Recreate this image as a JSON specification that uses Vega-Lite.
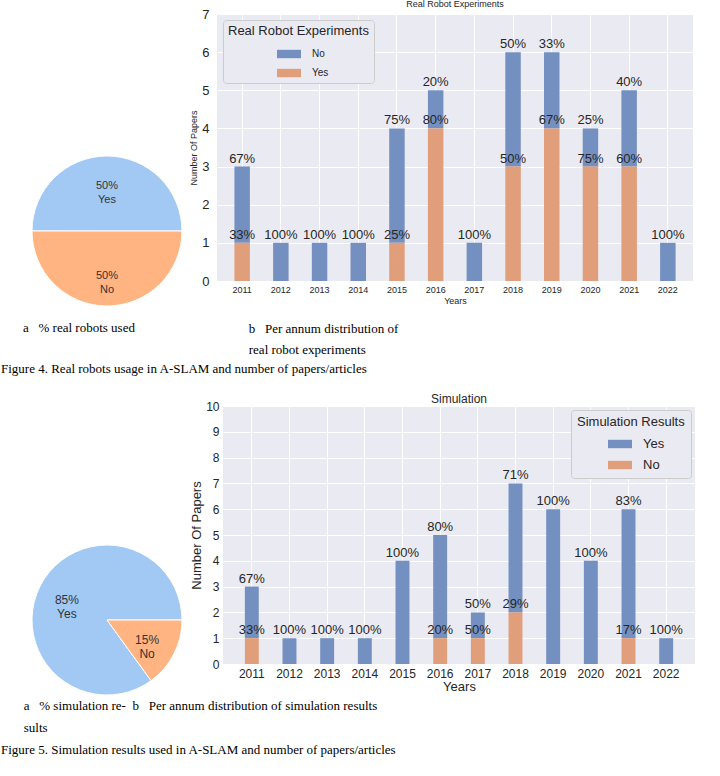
{
  "$schema": "https://vega.github.io/schema/vega-lite/v6.json",
  "padding": 0,
  "background": "white",
  "config": {
    "font": "Liberation Sans",
    "view": {"stroke": null},
    "axis": {"domain": false, "ticks": false, "gridColor": "white", "gridWidth": 1, "labelColor": "#262626", "titleColor": "#262626", "titleFontWeight": "normal"}
  },
  "resolve": {"scale": {"color": "independent", "theta": "independent"}, "legend": {"color": "independent"}},
  "spacing": 17,
  "vconcat": [
    {
      "spacing": -25,
      "resolve": {"scale": {"color": "independent", "theta": "independent"}, "legend": {"color": "independent"}},
      "title": {"text": "Figure 4. Real robots usage in A-SLAM and number of papers/articles", "orient": "bottom", "anchor": "start", "dx": 1, "offset": 6, "font": "Liberation Serif", "fontSize": 13, "fontWeight": "normal", "color": "black"},
      "hconcat": [
        {
          "spacing": 0,
          "title": {"text": "a\u00a0\u00a0\u00a0% real robots used", "orient": "bottom", "anchor": "start", "dx": 23, "offset": 14, "font": "Liberation Serif", "fontSize": 13, "fontWeight": "normal", "color": "black"},
          "vconcat": [
            {"width": 214, "height": 140, "data": {"values": []}, "mark": {"type": "point"}},
            {
              "width": 214,
              "height": 150,
              "data": {"values": [
                {"answer": "Yes", "share": 50, "pct": "50%"},
                {"answer": "No", "share": 50, "pct": "50%"}
              ]},
              "encoding": {
                "theta": {"field": "share", "type": "quantitative", "stack": true, "scale": {"range": [1.5708, 7.854]}},
                "order": {"field": "answer", "sort": "ascending"},
                "detail": {"field": "answer"}
              },
              "layer": [
                {"mark": {"type": "arc", "radius": 75, "stroke": "white", "strokeWidth": 1},
                 "encoding": {"color": {"field": "answer", "type": "nominal", "scale": {"domain": ["Yes", "No"], "range": ["#a1c9f4", "#ffb482"]}, "legend": null}}},
                {"mark": {"type": "text", "radius": 45, "fontSize": 11, "color": "#333333"},
                 "encoding": {"text": {"field": "pct"}}},
                {"mark": {"type": "text", "radius": 45, "dy": 14, "fontSize": 11, "color": "#333333"},
                 "encoding": {"text": {"field": "answer"}}}
              ]
            }
          ]
        },
        {
          "title": {"text": ["b\u00a0\u00a0\u00a0Per annum distribution of", "real robot experiments"], "orient": "bottom", "anchor": "start", "dx": 59, "offset": 18, "lineHeight": 21, "font": "Liberation Serif", "fontSize": 13, "fontWeight": "normal", "color": "black"},
          "vconcat": [
            {
              "width": 476,
              "height": 267,
              "title": {"text": "Real Robot Experiments", "fontSize": 9, "fontWeight": "normal", "offset": -1, "color": "#262626"},
              "view": {"fill": "#eaeaf2", "stroke": null},
              "data": {"values": [
                {"year": "2011", "exp": "No", "count": 2, "pct": "67%"},
                {"year": "2011", "exp": "Yes", "count": 1, "pct": "33%"},
                {"year": "2012", "exp": "No", "count": 1, "pct": "100%"},
                {"year": "2013", "exp": "No", "count": 1, "pct": "100%"},
                {"year": "2014", "exp": "No", "count": 1, "pct": "100%"},
                {"year": "2015", "exp": "No", "count": 3, "pct": "75%"},
                {"year": "2015", "exp": "Yes", "count": 1, "pct": "25%"},
                {"year": "2016", "exp": "No", "count": 1, "pct": "20%"},
                {"year": "2016", "exp": "Yes", "count": 4, "pct": "80%"},
                {"year": "2017", "exp": "No", "count": 1, "pct": "100%"},
                {"year": "2018", "exp": "No", "count": 3, "pct": "50%"},
                {"year": "2018", "exp": "Yes", "count": 3, "pct": "50%"},
                {"year": "2019", "exp": "No", "count": 2, "pct": "33%"},
                {"year": "2019", "exp": "Yes", "count": 4, "pct": "67%"},
                {"year": "2020", "exp": "No", "count": 1, "pct": "25%"},
                {"year": "2020", "exp": "Yes", "count": 3, "pct": "75%"},
                {"year": "2021", "exp": "No", "count": 2, "pct": "40%"},
                {"year": "2021", "exp": "Yes", "count": 3, "pct": "60%"},
                {"year": "2022", "exp": "No", "count": 1, "pct": "100%"}
              ]},
              "encoding": {
                "x": {"field": "year", "type": "ordinal", "scale": {"paddingInner": 0.6, "paddingOuter": 0.45},
                      "axis": {"labelAngle": 0, "labelFontSize": 9, "labelPadding": 4, "title": "Years", "titleFontSize": 9, "titlePadding": 2, "grid": true}},
                "y": {"field": "count", "type": "quantitative", "stack": "zero", "scale": {"domain": [0, 7]},
                      "axis": {"values": [0, 1, 2, 3, 4, 5, 6, 7], "labelFontSize": 13, "labelPadding": 8, "title": "Number Of Papers", "titleFontSize": 9, "titlePadding": 3}},
                "order": {"field": "exp", "sort": "descending"}
              },
              "layer": [
                {"mark": {"type": "bar"},
                 "encoding": {"color": {"field": "exp", "type": "nominal", "scale": {"domain": ["No", "Yes"], "range": ["#7490c1", "#e09e7a"]},
                   "legend": {"title": "Real Robot Experiments", "orient": "top-left", "offset": 6, "padding": 5, "fillColor": "#eaeaf2", "strokeColor": "#cccccc", "cornerRadius": 3,
                              "titleFontSize": 13, "titleFontWeight": "normal", "titleColor": "#262626", "titlePadding": 4,
                              "labelFontSize": 10, "labelColor": "#262626", "labelOffset": 11,
                              "symbolType": "M-1,-0.35H1V0.35H-1Z", "symbolSize": 576, "symbolStrokeWidth": 0, "symbolOffset": 49, "rowPadding": 2}}}},
                {"mark": {"type": "text", "baseline": "bottom", "dy": -1, "fontSize": 13, "color": "#262626"},
                 "encoding": {"text": {"field": "pct"}, "detail": {"field": "exp"}}}
              ]
            }
          ]
        }
      ]
    },
    {
      "spacing": -24,
      "resolve": {"scale": {"color": "independent", "theta": "independent"}, "legend": {"color": "independent"}},
      "title": {"text": ["\u200b\u00a0\u00a0\u00a0\u00a0\u00a0\u00a0\u00a0a\u00a0\u00a0\u00a0% simulation re-\u00a0\u00a0b\u00a0\u00a0\u00a0Per annum distribution of simulation results", "\u200b\u00a0\u00a0\u00a0\u00a0\u00a0\u00a0\u00a0sults", "Figure 5. Simulation results used in A-SLAM and number of papers/articles"], "orient": "bottom", "anchor": "start", "dx": 1, "offset": 3, "lineHeight": 22, "font": "Liberation Serif", "fontSize": 13, "fontWeight": "normal", "color": "black"},
      "hconcat": [
        {
          "spacing": 0,
          "vconcat": [
            {"width": 214, "height": 137, "data": {"values": []}, "mark": {"type": "point"}},
            {
              "width": 214,
              "height": 150,
              "data": {"values": [
                {"answer": "Yes", "share": 85, "pct": "85%"},
                {"answer": "No", "share": 15, "pct": "15%"}
              ]},
              "encoding": {
                "theta": {"field": "share", "type": "quantitative", "stack": true, "scale": {"range": [1.5708, 7.854]}},
                "order": {"field": "answer", "sort": "ascending"},
                "detail": {"field": "answer"}
              },
              "layer": [
                {"mark": {"type": "arc", "radius": 75, "stroke": "white", "strokeWidth": 1},
                 "encoding": {"color": {"field": "answer", "type": "nominal", "scale": {"domain": ["Yes", "No"], "range": ["#a1c9f4", "#ffb482"]}, "legend": null}}},
                {"mark": {"type": "text", "radius": 45, "fontSize": 12, "color": "#333333"},
                 "encoding": {"text": {"field": "pct"}}},
                {"mark": {"type": "text", "radius": 45, "dy": 14, "fontSize": 12, "color": "#333333"},
                 "encoding": {"text": {"field": "answer"}}}
              ]
            }
          ]
        },
        {
          "width": 472,
          "height": 258,
          "title": {"text": "Simulation", "fontSize": 12, "fontWeight": "normal", "offset": -6, "color": "#262626"},
          "view": {"fill": "#eaeaf2", "stroke": null},
          "data": {"values": [
            {"year": "2011", "sim": "Yes", "count": 2, "pct": "67%"},
            {"year": "2011", "sim": "No", "count": 1, "pct": "33%"},
            {"year": "2012", "sim": "Yes", "count": 1, "pct": "100%"},
            {"year": "2013", "sim": "Yes", "count": 1, "pct": "100%"},
            {"year": "2014", "sim": "Yes", "count": 1, "pct": "100%"},
            {"year": "2015", "sim": "Yes", "count": 4, "pct": "100%"},
            {"year": "2016", "sim": "Yes", "count": 4, "pct": "80%"},
            {"year": "2016", "sim": "No", "count": 1, "pct": "20%"},
            {"year": "2017", "sim": "Yes", "count": 1, "pct": "50%"},
            {"year": "2017", "sim": "No", "count": 1, "pct": "50%"},
            {"year": "2018", "sim": "Yes", "count": 5, "pct": "71%"},
            {"year": "2018", "sim": "No", "count": 2, "pct": "29%"},
            {"year": "2019", "sim": "Yes", "count": 6, "pct": "100%"},
            {"year": "2020", "sim": "Yes", "count": 4, "pct": "100%"},
            {"year": "2021", "sim": "Yes", "count": 5, "pct": "83%"},
            {"year": "2021", "sim": "No", "count": 1, "pct": "17%"},
            {"year": "2022", "sim": "Yes", "count": 1, "pct": "100%"}
          ]},
          "encoding": {
            "x": {"field": "year", "type": "ordinal", "scale": {"paddingInner": 0.63, "paddingOuter": 0.58},
                  "axis": {"labelAngle": 0, "labelFontSize": 12, "labelPadding": 4, "title": "Years", "titleFontSize": 13, "titlePadding": 1, "grid": true}},
            "y": {"field": "count", "type": "quantitative", "stack": "zero", "scale": {"domain": [0, 10]},
                  "axis": {"values": [0, 1, 2, 3, 4, 5, 6, 7, 8, 9, 10], "labelFontSize": 12, "labelPadding": 4, "title": "Number Of Papers", "titleFontSize": 13, "titlePadding": 2}},
            "order": {"field": "sim", "sort": "ascending"}
          },
          "layer": [
            {"mark": {"type": "bar"},
             "encoding": {"color": {"field": "sim", "type": "nominal", "scale": {"domain": ["Yes", "No"], "range": ["#7490c1", "#e09e7a"]},
               "legend": {"title": "Simulation Results", "orient": "top-right", "offset": 4, "padding": 6, "fillColor": "#eaeaf2", "strokeColor": "#cccccc", "cornerRadius": 3,
                          "titleFontSize": 13, "titleFontWeight": "normal", "titleColor": "#262626", "titlePadding": 3,
                          "labelFontSize": 13, "labelColor": "#262626", "labelOffset": 11,
                          "symbolType": "M-1,-0.35H1V0.35H-1Z", "symbolSize": 576, "symbolStrokeWidth": 0, "symbolOffset": 31, "rowPadding": 2}}}},
            {"mark": {"type": "text", "baseline": "bottom", "dy": -1, "fontSize": 13, "color": "#262626"},
             "encoding": {"text": {"field": "pct"}, "detail": {"field": "sim"}}}
          ]
        }
      ]
    }
  ]
}
